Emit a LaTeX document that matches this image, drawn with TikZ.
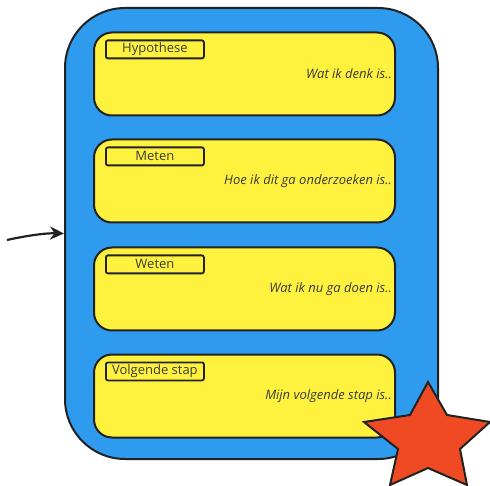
\documentclass[tikz,border=0pt]{standalone}
\usepackage{fontspec}
\setmainfont{Open Sans}
\usetikzlibrary{positioning, arrows.meta}
\definecolor{panelblue}{HTML}{2E9BEF}
\definecolor{cardyellow}{HTML}{FFF23F}
\definecolor{starred}{HTML}{F04A24}
\definecolor{inkgray}{HTML}{222222}
\definecolor{textgray}{HTML}{3A3A3A}
\tikzset{
	panel/.style={draw=inkgray, line width=2pt, rounded corners=60pt, fill=panelblue, minimum width=373pt, minimum height=451pt},
	card/.style={draw=inkgray, line width=2pt, rounded corners=18pt, fill=cardyellow, minimum width=301pt, minimum height=83pt},
	% small titled box top left in each card
	tag/.style={draw=inkgray, line width=1.8pt, rounded corners=2pt, minimum width=98pt, minimum height=18pt, inner sep=0pt, text=textgray, font=\fontsize{13}{13}\selectfont},
	note/.style={text=textgray, font=\fontsize{13}{15}\selectfont\itshape, inner sep=0pt},
	starshape/.style={draw=inkgray, line width=2pt, fill=starred, line join=miter},
}

\begin{document}
\begin{tikzpicture}[x=1pt, y=-1pt]
		\useasboundingbox (0,0) rectangle (490,486);
		
		\node (panel) [panel] at (251.5,233.5) {};
		
		\node (hyp) [card] at (244.5,74) {};
		\node (meten) [card, below=22pt of hyp] {};
		\node (weten) [card, below=23pt of meten] {};
		\node (stap) [card, below=22pt of weten] {};
		
		\node (hyptag) [tag, below right=8pt and 12pt of hyp.north west] {Hypothese};
		\node (metentag) [tag, below right=8pt and 12pt of meten.north west] {Meten};
		\node (wetentag) [tag, below right=8pt and 12pt of weten.north west] {Weten};
		\node (staptag) [tag, below right=8pt and 12pt of stap.north west] {Volgende stap};
		
		\node (hypnote) [note, left=4pt of hyp.east] {Wat ik denk is..};
		\node (metennote) [note, left=4pt of meten.east] {Hoe ik dit ga onderzoeken is..};
		\node (wetennote) [note, left=4pt of weten.east] {Wat ik nu ga doen is..};
		\node (stapnote) [note, left=4pt of stap.east] {Mijn volgende stap is..};
		
		% incoming arrow
		\coordinate (src) at (7,240);
		\draw[inkgray, line width=2.2pt, -{Stealth[length=14pt, width=13pt]}]
			(src) .. controls (25,236) and (45,233) .. (panel.west);
		
		% star on the corner
		\draw[starshape] (428,382) -- (410,415) -- (364,422) -- (398,449)
			-- (390,485) -- (428,468) -- (467,485) -- (460,449)
			-- (490,422) -- (447,415) -- cycle;
	\end{tikzpicture}
\end{document}
